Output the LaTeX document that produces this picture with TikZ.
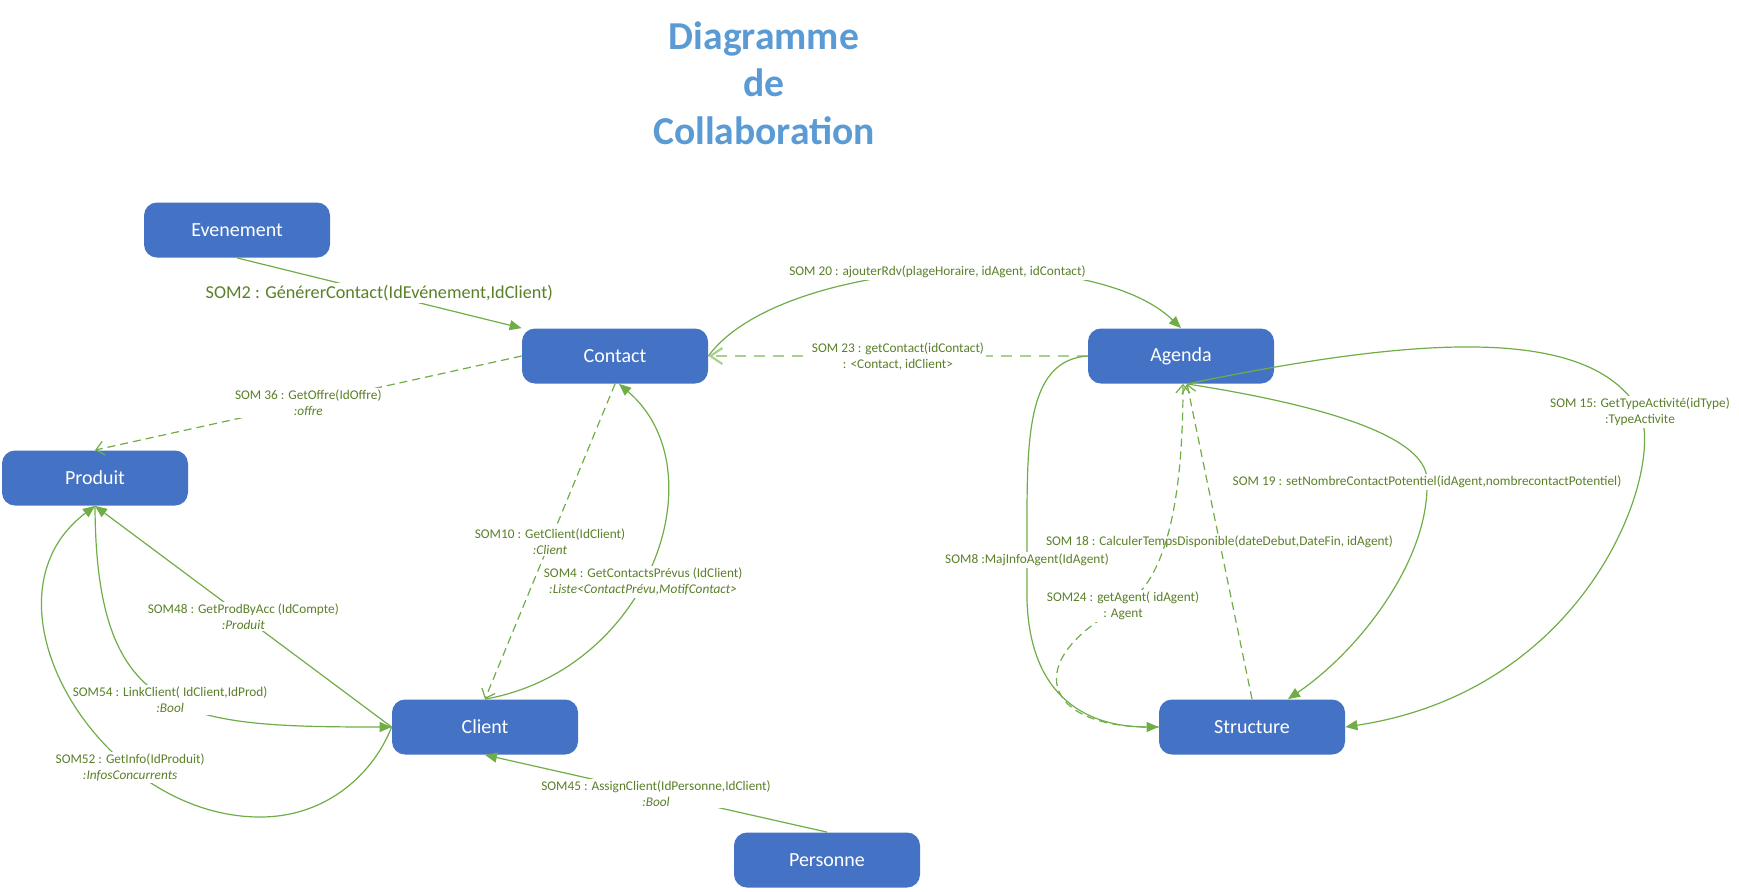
\documentclass[tikz,border=0pt]{standalone}
\usepackage{fontspec}
\setmainfont{Carlito}
\usetikzlibrary{arrows.meta}

\definecolor{boxblue}{HTML}{4472C4}
\definecolor{linegreen}{HTML}{70AD47}
\definecolor{palegreen}{HTML}{A9D18E}
\definecolor{msgtext}{RGB}{90,128,40}
\definecolor{titleblue}{HTML}{5B9BD5}

\begin{document}
\begin{tikzpicture}[x=0.5pt, y=-0.5pt,
  obj/.style={rectangle, rounded corners=6.5pt, fill=boxblue, text=white, minimum width=93pt, minimum height=27.5pt, font=\fontsize{10}{12}\selectfont},
  msg/.style={draw=linegreen, line width=0.6pt, -{Triangle[length=6pt,width=5pt]}},
  ret/.style={draw=linegreen, line width=0.6pt, dash pattern=on 4pt off 2.5pt, -{Straight Barb[length=4pt,width=7pt]}},
  lbl/.style={fill=white, text=msgtext, inner sep=1pt, align=center, font=\fontsize{6.65}{8}\selectfont}]
\useasboundingbox (0,0) rectangle (1739,891);

\node[font=\fontsize{19.8}{23.8}\selectfont\bfseries, text=titleblue, align=center] (titre) at (764,83) {Diagramme\\de\\Collaboration};

\foreach \nom/\x/\y/\txt in {evenement/237/230/Evenement, contact/615/356/Contact, agenda/1181/356/Agenda, produit/95/478/Produit, client/485/727/Client, structure/1252/727/Structure, personne/827/860/Personne}
  \node[obj] (\nom) at (\x,\y) {\txt};

\draw[msg] (evenement.south) -- (contact.north west) node[lbl, midway, font=\fontsize{9.1}{11}\selectfont] {SOM2 : GénérerContact(IdEvénement,IdClient)};
\draw[ret] (contact.west) -- (produit.north) node[lbl, midway] {SOM 36 : GetOffre(IdOffre)\\\textit{:offre}};
\draw[msg] (contact.east) .. controls (780,258) and (1090,240) .. (agenda.north) node[lbl, pos=0.5] {SOM 20 : ajouterRdv(plageHoraire, idAgent, idContact)};
\draw[ret, draw=palegreen, line width=1.1pt, dash pattern=on 5.5pt off 4pt, -{Straight Barb[length=6pt,width=8pt]}] (agenda.west) -- (contact.east) node[lbl, midway] {SOM 23 : getContact(idContact)\\: <Contact, idClient>};
\draw[ret] (contact.south) -- (client.north) node[lbl, midway] {SOM10 : GetClient(IdClient)\\\textit{:Client}};
\draw[msg] (client.north) .. controls (650,670) and (720,470) .. ([xshift=2pt]contact.south) node[lbl, pos=0.45] {SOM4 : GetContactsPrévus (IdClient)\\\textit{:Liste<ContactPrévu,MotifContact>}};

\draw[msg] (client.west) -- (produit.south) node[lbl, midway] {SOM48 : GetProdByAcc (IdCompte)\\\textit{:Produit}};
\draw[msg] (produit.south) .. controls (96,720) and (180,727) .. (client.west) node[lbl, pos=0.52] {SOM54 : LinkClient( IdClient,IdProd)\\\textit{:Bool}};
\draw[msg] (client.west) .. controls (375,770) and (330,817) .. (260,817) .. controls (100,817) and (-30,600) .. (produit.south) node[lbl, pos=0.3] {SOM52 : GetInfo(IdProduit)\\\textit{:InfosConcurrents}};
\draw[msg] (personne.north) -- (client.south) node[lbl, midway] {SOM45 : AssignClient(IdPersonne,IdClient)\\\textit{:Bool}};

\draw[msg] (agenda.west) .. controls (1030,360) and (1027,430) .. (1027,520) -- (1027,600) node[lbl, midway] {SOM8 :MajInfoAgent(IdAgent)} .. controls (1030,700) and (1090,727) .. (structure.west);
\draw[ret] (structure.north) -- ([xshift=3pt]agenda.south) node[lbl, midway] {SOM 18 : CalculerTempsDisponible(dateDebut,DateFin, idAgent)};
\draw[ret] (structure.west) .. controls (1040,730) and (1020,660) .. (1123,606) node[lbl] {SOM24 : getAgent( idAgent)\\: Agent} .. controls (1160,585) and (1183,520) .. ([xshift=1pt]agenda.south);
\draw[msg] ([xshift=3pt]agenda.south) .. controls (1290,400) and (1430,430) .. (1427,482) node[lbl] {SOM 19 : setNombreContactPotentiel(idAgent,nombrecontactPotentiel)} .. controls (1429,560) and (1360,650) .. ([xshift=18pt]structure.north);
\draw[msg] ([xshift=3pt]agenda.south) .. controls (1400,340) and (1590,320) .. (1640,412) node[lbl] {SOM 15: GetTypeActivité(idType)\\:TypeActivite} .. controls (1665,470) and (1590,690) .. (structure.east);
\end{tikzpicture}
\end{document}
